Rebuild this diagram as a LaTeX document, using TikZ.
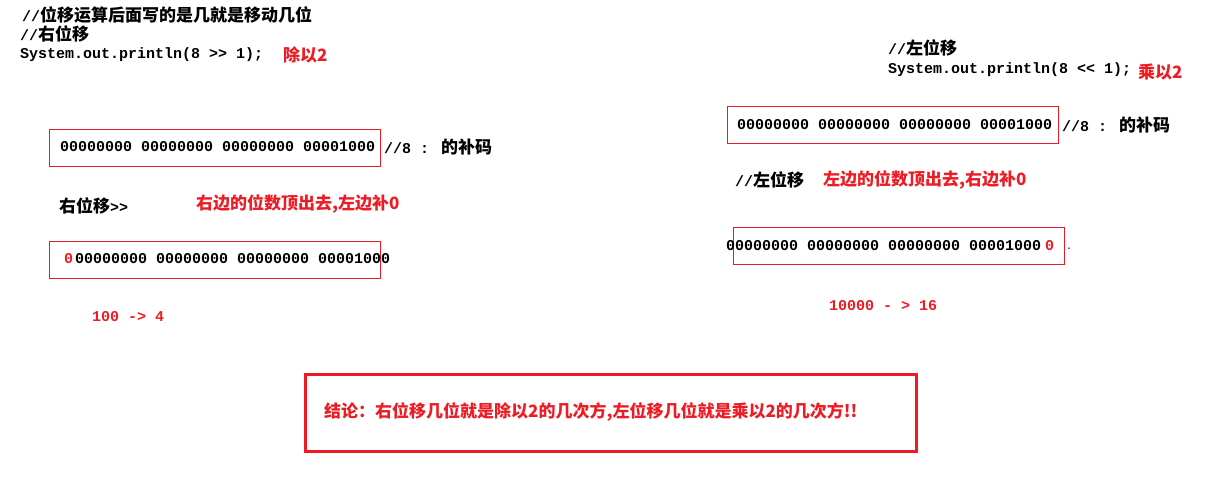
\documentclass[tikz,border=0pt]{standalone}
\usepackage{fontspec}
\setmainfont{Liberation Mono}[Ligatures={NoCommon,NoRequired}]
\newfontfamily\zhfont{Noto Sans CJK SC}
\newcommand\zh[1]{{\zhfont\fontsize{17}{17}\selectfont #1}}
\definecolor{myred}{RGB}{237,28,36}
\tikzset{
  txt/.style={anchor=west, inner sep=0pt, font=\fontsize{15}{15}\selectfont\bfseries, text=black},
  rtxt/.style={txt, text=myred},
  thinbox/.style={draw=myred, line width=1pt},
  bigbox/.style={draw=myred, line width=3pt}
}
\begin{document}
\begin{tikzpicture}[x=1pt,y=-1pt]
\useasboundingbox (0,0) rectangle (1206,480);
% left column
\node[txt] (t1) at (22,15) {//\zh{位移运算后面写的是几就是移动几位}};
\node[txt] (t2) at (20,34) {//\zh{右位移}};
\node[txt] (t3) at (20,55) {System.out.println(8 >{}> 1);};
\node[rtxt] (t4) at (283,55) {\zh{除以2}};
\draw[thinbox] (49,129) rectangle (380,166);
\node[txt] (b1) at (60,147) {00000000 00000000 00000000 00001000};
\node[txt] (c1) at (384,147) {//8 : \zh{的补码}};
\node[txt] (r1) at (59,206) {\zh{右位移}>{}>};
\node[rtxt] (r2) at (196,204) {\zh{右边的位数顶出去,左边补0}};
\draw[thinbox] (49,241) rectangle (380,278);
\node[rtxt] (z1) at (64,259) {0};
\node[txt] (b2) at (75,259) {00000000 00000000 00000000 00001000};
\node[rtxt] (e1) at (92,317) {100 -> 4};
% right column
\node[txt] (s1) at (888,48) {//\zh{左位移}};
\node[txt] (s2) at (888,70) {System.out.println(8 <{}< 1);};
\node[rtxt] (s3) at (1138,72) {\zh{乘以2}};
\draw[thinbox] (727,106) rectangle (1058,143);
\node[txt] (b3) at (737,125) {00000000 00000000 00000000 00001000};
\node[txt] (c3) at (1062,125) {//8 : \zh{的补码}};
\node[txt] (l1) at (735,180) {//\zh{左位移}};
\node[rtxt] (l2) at (823,180) {\zh{左边的位数顶出去,右边补0}};
\draw[thinbox] (733,227) rectangle (1064,264);
\node[txt] (b4) at (726,246) {00000000 00000000 00000000 00001000};
\node[rtxt] (z4) at (1045,246) {0};
\node[txt, font=\fontsize{10}{10}\selectfont] (d4) at (1066,249) {.};
\node[rtxt] (e4) at (829,306) {10000 - > 16};
% conclusion
\draw[bigbox] (305,374) rectangle (916,451);
\node[rtxt] (k) at (324,412) {\zh{结论：右位移几位就是除以2的几次方,左位移几位就是乘以2的几次方!!}};
\end{tikzpicture}
\end{document}
